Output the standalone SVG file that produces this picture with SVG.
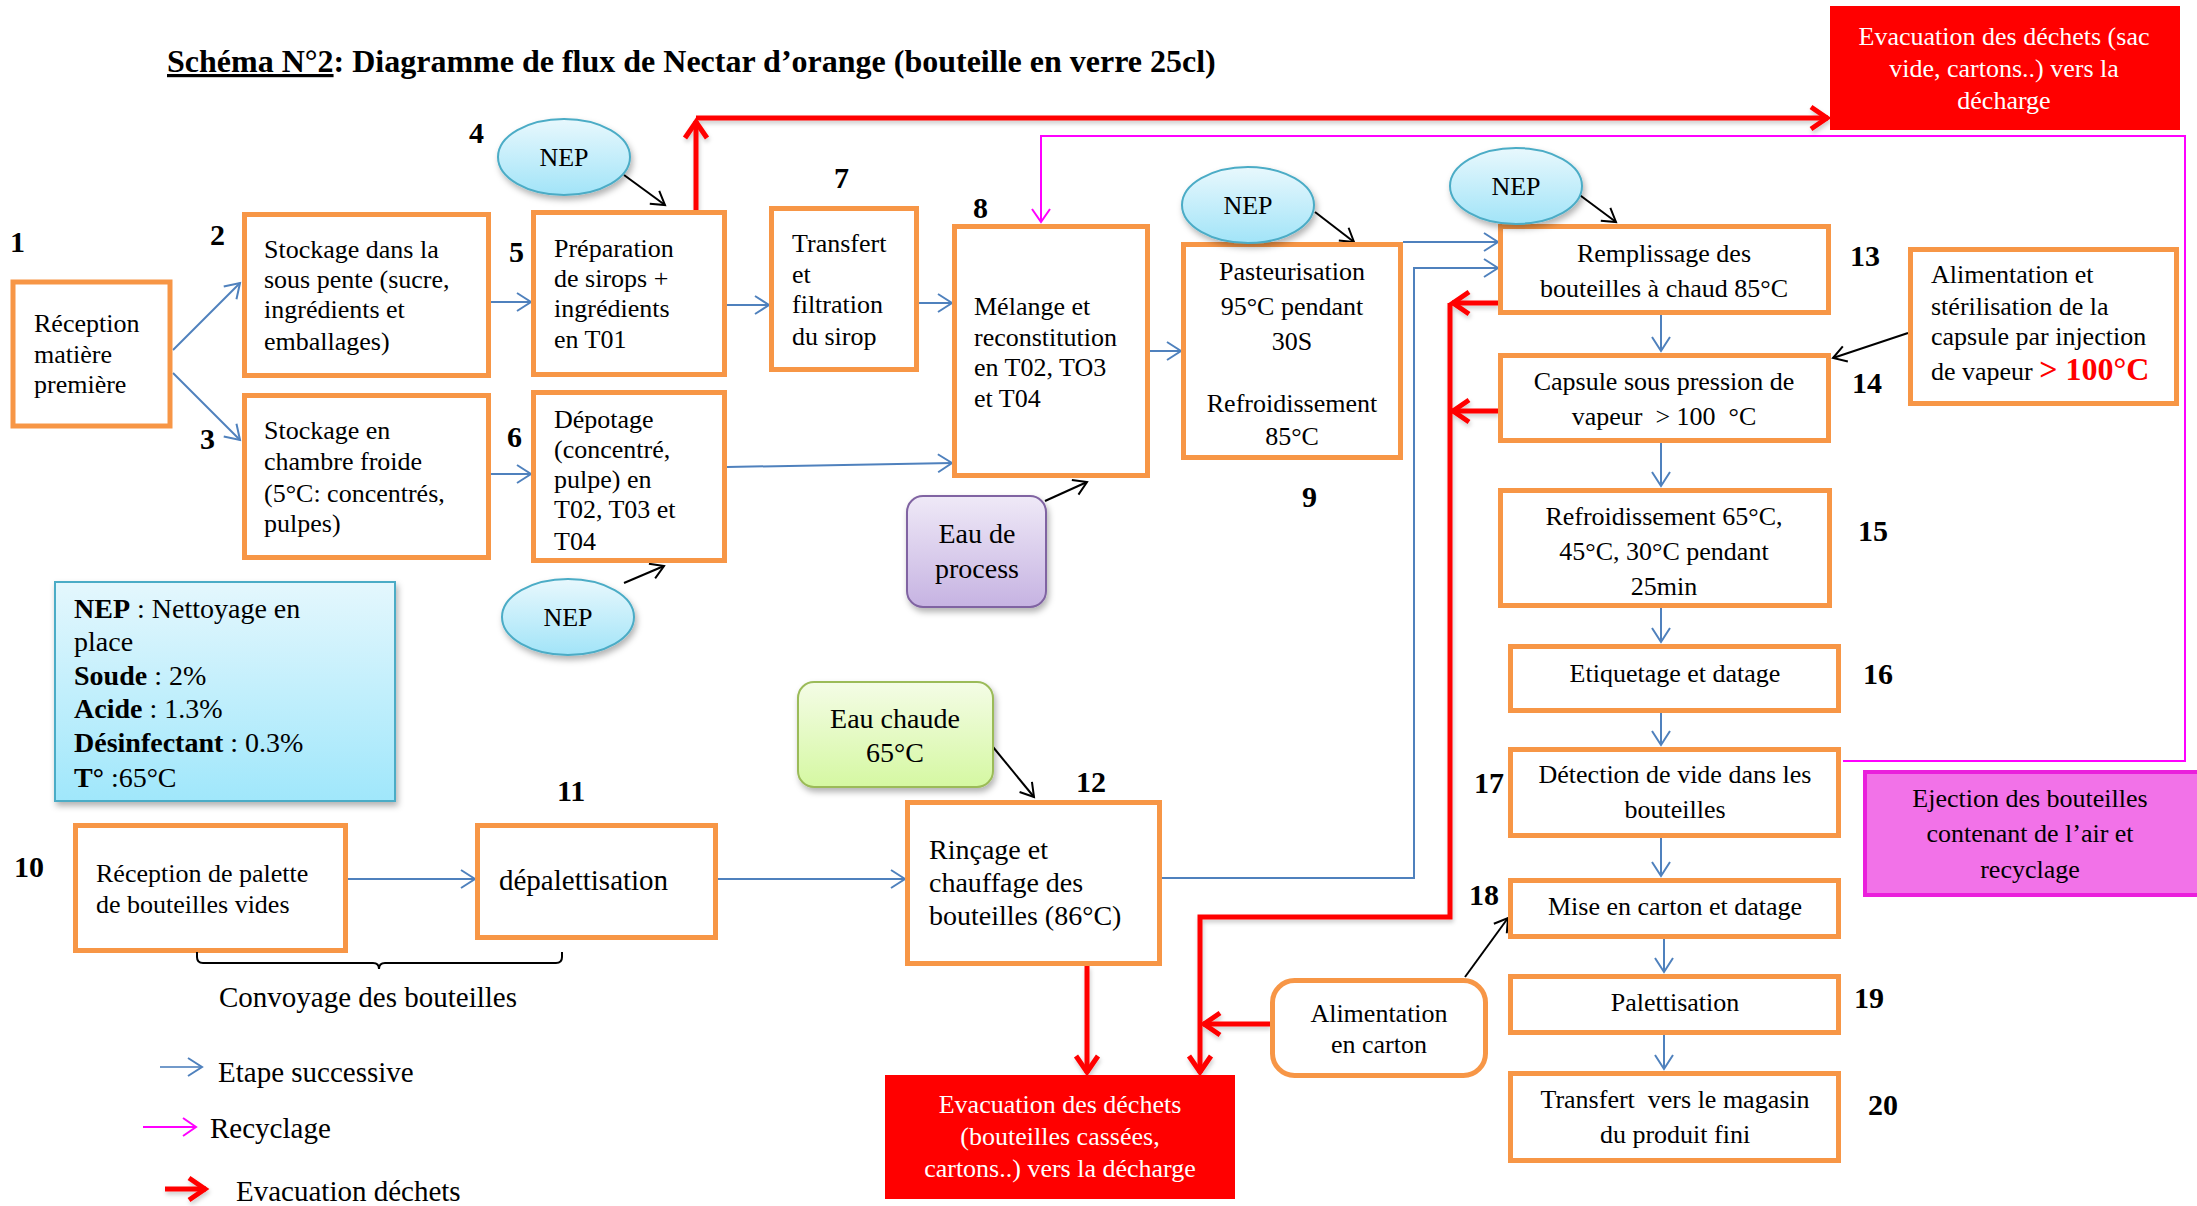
<svg xmlns="http://www.w3.org/2000/svg" width="2197" height="1206" viewBox="0 0 2197 1206">
<defs>
<style>
.box{fill:#fff;stroke:#F79646;stroke-width:5}
.t{font-family:"Liberation Serif","Times New Roman",serif;font-size:26px;fill:#000}
.c{text-anchor:middle}
.w{fill:#fff}
.b{font-weight:bold}
.lbl{font-family:"Liberation Serif","Times New Roman",serif;font-size:30px;font-weight:bold;fill:#000}
.blue{stroke:#4F81BD;stroke-width:2;fill:none;marker-end:url(#mb)}
.blk{stroke:#000;stroke-width:2;fill:none;marker-end:url(#mk)}
.red{stroke:#FF0000;stroke-width:5;fill:none;marker-end:url(#mr)}
.mag{stroke:#FF00FF;stroke-width:2;fill:none;marker-end:url(#mm)}
.nep{fill:url(#gNep);stroke:#4BACC6;stroke-width:2}
</style>
<marker id="mb" markerUnits="userSpaceOnUse" refX="0" refY="0" markerWidth="20" markerHeight="20" orient="auto" overflow="visible"><path d="M-14,-9 L0,0 L-14,9" fill="none" stroke="#4F81BD" stroke-width="2"/></marker>
<marker id="mk" markerUnits="userSpaceOnUse" refX="0" refY="0" markerWidth="20" markerHeight="20" orient="auto" overflow="visible"><path d="M-13,-8 L0,0 L-13,8" fill="none" stroke="#000" stroke-width="2"/></marker>
<marker id="mm" markerUnits="userSpaceOnUse" refX="0" refY="0" markerWidth="20" markerHeight="20" orient="auto" overflow="visible"><path d="M-13,-9 L0,0 L-13,9" fill="none" stroke="#FF00FF" stroke-width="2"/></marker>
<marker id="mr" markerUnits="userSpaceOnUse" refX="0" refY="0" markerWidth="30" markerHeight="30" orient="auto" overflow="visible"><path d="M-17,-11 L-1,0 L-17,11" fill="none" stroke="#FF0000" stroke-width="5"/></marker>
<linearGradient id="gNep" x1="0" y1="0" x2="0" y2="1"><stop offset="0" stop-color="#E8F8FD"/><stop offset="1" stop-color="#A2E4F8"/></linearGradient>
<linearGradient id="gLeg" x1="0" y1="0" x2="0" y2="1"><stop offset="0" stop-color="#E4F7FD"/><stop offset="1" stop-color="#A0E7FB"/></linearGradient>
<linearGradient id="gPur" x1="0" y1="0" x2="0" y2="1"><stop offset="0" stop-color="#EFE9F7"/><stop offset="1" stop-color="#C6B3E2"/></linearGradient>
<linearGradient id="gGrn" x1="0" y1="0" x2="0" y2="1"><stop offset="0" stop-color="#F4FCE6"/><stop offset="1" stop-color="#D5F8A2"/></linearGradient>
<filter id="sh" x="-20%" y="-20%" width="150%" height="150%"><feDropShadow dx="2" dy="4" stdDeviation="3" flood-color="#000" flood-opacity="0.3"/></filter>
<filter id="shs" filterUnits="userSpaceOnUse" x="0" y="0" width="2197" height="1206"><feDropShadow dx="1" dy="3" stdDeviation="2" flood-color="#000" flood-opacity="0.2"/></filter>
</defs>
<rect width="2197" height="1206" fill="#fff"/>

<text class="t b" x="167" y="72" style="font-size:32px"><tspan text-decoration="underline">Schéma N°2</tspan>: Diagramme de flux de Nectar d’orange (bouteille en verre 25cl)</text>

<g id="connectors">
  <g id="blue-flow">
    <path class="blue" d="M173,350 L240,283"/>
    <path class="blue" d="M173,373 L240,440"/>
    <path class="blue" d="M491,302 H531"/>
    <path class="blue" d="M491,474 H531"/>
    <path class="blue" d="M727,305 H769"/>
    <path class="blue" d="M727,467 L952,463"/>
    <path class="blue" d="M919,303 H952"/>
    <path class="blue" d="M1150,351 H1181"/>
    <path class="blue" d="M1403,242 H1498"/>
    <path class="blue" d="M1162,878 H1414 V268 H1498"/>
    <path class="blue" d="M348,879 H475"/>
    <path class="blue" d="M718,879 H905"/>
    <path class="blue" d="M1661,315 V351"/>
    <path class="blue" d="M1661,443 V486"/>
    <path class="blue" d="M1661,608 V642"/>
    <path class="blue" d="M1661,713 V745"/>
    <path class="blue" d="M1661,838 V876"/>
    <path class="blue" d="M1664,939 V972"/>
    <path class="blue" d="M1664,1035 V1069"/>
  </g>
  <g id="black-inputs">
    <path class="blk" d="M624,175 L665,205"/>
    <path class="blk" d="M624,583 L664,566"/>
    <path class="blk" d="M1315,212 L1354,242"/>
    <path class="blk" d="M1577,193 L1616,222"/>
    <path class="blk" d="M1045,501 L1087,482"/>
    <path class="blk" d="M993,747 L1034,797"/>
    <path class="blk" d="M1908,333 L1833,358"/>
    <path class="blk" d="M1465,977 L1508,918"/>
  </g>
  <g id="recycling">
    <path class="mag" d="M1843,761 H2185 V136 H1041 V222"/>
  </g>
  <g id="waste" filter="url(#shs)">
    <path class="red" d="M696,210 V121"/>
    <path class="red" d="M696,118 H1828"/>
    <path class="red" d="M1498,303 H1452"/>
    <path class="red" d="M1498,411 H1452"/>
    <path class="red" d="M1450,303 V917 H1200 V1073"/>
    <path class="red" d="M1270,1024 H1203"/>
    <path class="red" d="M1087,966 V1073"/>
  </g>
</g>

<g id="n1"><rect class="box" x="13" y="282" width="157" height="144"/>
<text class="t" x="34" y="332">Réception</text><text class="t" x="34" y="363">matière</text><text class="t" x="34" y="393">première</text></g>
<g id="n2"><rect class="box" x="244.5" y="214.5" width="244" height="161"/>
<text class="t" x="264" y="258">Stockage dans la</text><text class="t" x="264" y="288">sous pente (sucre,</text><text class="t" x="264" y="318">ingrédients et</text><text class="t" x="264" y="350">emballages)</text></g>
<g id="n3"><rect class="box" x="244.5" y="395.5" width="244" height="162"/>
<text class="t" x="264" y="439">Stockage en</text><text class="t" x="264" y="470">chambre froide</text><text class="t" x="264" y="502">(5°C: concentrés,</text><text class="t" x="264" y="532">pulpes)</text></g>
<g id="n5"><rect class="box" x="533.5" y="212.5" width="191" height="162"/>
<text class="t" x="554" y="257">Préparation</text><text class="t" x="554" y="287">de sirops +</text><text class="t" x="554" y="317">ingrédients</text><text class="t" x="554" y="348">en T01</text></g>
<g id="n6"><rect class="box" x="533.5" y="392.5" width="191" height="168"/>
<text class="t" x="554" y="428">Dépotage</text><text class="t" x="554" y="458">(concentré,</text><text class="t" x="554" y="488">pulpe) en</text><text class="t" x="554" y="518">T02, T03 et</text><text class="t" x="554" y="550">T04</text></g>
<g id="n7"><rect class="box" x="771.5" y="208.5" width="145" height="161"/>
<text class="t" x="792" y="252">Transfert</text><text class="t" x="792" y="283">et</text><text class="t" x="792" y="313">filtration</text><text class="t" x="792" y="345">du sirop</text></g>
<g id="n8"><rect class="box" x="954.5" y="226.5" width="193" height="249"/>
<text class="t" x="974" y="315">Mélange et</text><text class="t" x="974" y="346">reconstitution</text><text class="t" x="974" y="376">en T02, TO3</text><text class="t" x="974" y="407">et T04</text></g>
<g id="n9"><rect class="box" x="1183.5" y="244.5" width="217" height="213"/>
<text class="t c" x="1292" y="280">Pasteurisation</text><text class="t c" x="1292" y="315">95°C pendant</text><text class="t c" x="1292" y="350">30S</text><text class="t c" x="1292" y="412">Refroidissement</text><text class="t c" x="1292" y="445">85°C</text></g>
<g id="n10"><rect class="box" x="75.5" y="825.5" width="270" height="125"/>
<text class="t" x="96" y="882">Réception de palette</text><text class="t" x="96" y="913">de bouteilles vides</text></g>
<g id="n11"><rect class="box" x="477.5" y="825.5" width="238" height="112"/>
<text class="t" x="499" y="890" style="font-size:29px">dépalettisation</text></g>
<g id="n12"><rect class="box" x="907.5" y="802.5" width="252" height="161"/>
<text class="t" x="929" y="859" style="font-size:28px">Rinçage et</text><text class="t" x="929" y="892" style="font-size:28px">chauffage des</text><text class="t" x="929" y="925" style="font-size:28px">bouteilles (86°C)</text></g>
<g id="n13"><rect class="box" x="1500.5" y="226.5" width="328" height="86"/>
<text class="t c" x="1664" y="262">Remplissage des</text><text class="t c" x="1664" y="297">bouteilles à chaud 85°C</text></g>
<g id="n14"><rect class="box" x="1500.5" y="355.5" width="328" height="85"/>
<text class="t c" x="1664" y="390">Capsule sous pression de</text><text class="t c" x="1664" y="425" xml:space="preserve">vapeur  &gt; 100  °C</text></g>
<g id="n-capsule"><rect class="box" x="1910.5" y="249.5" width="266" height="154"/>
<text class="t" x="1931" y="283">Alimentation et</text><text class="t" x="1931" y="315">stérilisation de la</text><text class="t" x="1931" y="345">capsule par injection</text><text class="t" x="1931" y="380" xml:space="preserve">de vapeur <tspan style="font-size:32px;font-weight:bold;fill:#FF0000">&gt; 100°C</tspan></text></g>
<g id="n15"><rect class="box" x="1500.5" y="490.5" width="329" height="115"/>
<text class="t c" x="1664" y="525">Refroidissement 65°C,</text><text class="t c" x="1664" y="560">45°C, 30°C pendant</text><text class="t c" x="1664" y="595">25min</text></g>
<g id="n16"><rect class="box" x="1510.5" y="646.5" width="328" height="64"/>
<text class="t c" x="1675" y="682">Etiquetage et datage</text></g>
<g id="n17"><rect class="box" x="1510.5" y="749.5" width="328" height="86"/>
<text class="t c" x="1675" y="783">Détection de vide dans les</text><text class="t c" x="1675" y="818">bouteilles</text></g>
<g id="n18"><rect class="box" x="1510.5" y="880.5" width="328" height="56"/>
<text class="t c" x="1675" y="915">Mise en carton et datage</text></g>
<g id="n19"><rect class="box" x="1510.5" y="976.5" width="328" height="56"/>
<text class="t c" x="1675" y="1011">Palettisation</text></g>
<g id="n20"><rect class="box" x="1510.5" y="1073.5" width="328" height="87"/>
<text class="t c" x="1675" y="1108" xml:space="preserve">Transfert  vers le magasin</text><text class="t c" x="1675" y="1143">du produit fini</text></g>
<g id="n-carton"><rect class="box" x="1272.5" y="980.5" width="213" height="95" rx="22"/>
<text class="t c" x="1379" y="1022">Alimentation</text><text class="t c" x="1379" y="1053">en carton</text></g>

<g id="n-waste-top"><rect x="1830" y="6" width="350" height="124" fill="#FF0000"/>
<text class="t c w" x="2004" y="45">Evacuation des déchets (sac</text><text class="t c w" x="2004" y="77">vide, cartons..) vers la</text><text class="t c w" x="2004" y="109">décharge</text></g>
<g id="n-waste-bottom"><rect x="885" y="1075" width="350" height="124" fill="#FF0000"/>
<text class="t c w" x="1060" y="1113">Evacuation des déchets</text><text class="t c w" x="1060" y="1145">(bouteilles cassées,</text><text class="t c w" x="1060" y="1177">cartons..) vers la décharge</text></g>
<g id="n-ejection"><rect x="1865" y="772" width="334" height="123" fill="#F272E8" stroke="#EA1FDC" stroke-width="4"/>
<text class="t c" x="2030" y="807">Ejection des bouteilles</text><text class="t c" x="2030" y="842">contenant de l’air et</text><text class="t c" x="2030" y="878">recyclage</text></g>

<g id="n-eau-process"><rect x="907" y="496" width="139" height="111" rx="16" fill="url(#gPur)" stroke="#8064A2" stroke-width="2" filter="url(#sh)"/>
<text class="t c" x="977" y="543" style="font-size:28px">Eau de</text><text class="t c" x="977" y="578" style="font-size:28px">process</text></g>
<g id="n-eau-chaude"><rect x="798" y="682" width="195" height="105" rx="16" fill="url(#gGrn)" stroke="#9BBB59" stroke-width="2" filter="url(#sh)"/>
<text class="t c" x="895" y="728" style="font-size:28px">Eau chaude</text><text class="t c" x="895" y="762" style="font-size:28px">65°C</text></g>

<g id="nep1"><ellipse class="nep" cx="564" cy="157" rx="66" ry="38" filter="url(#sh)"/><text class="t c" x="564" y="166">NEP</text></g>
<g id="nep2"><ellipse class="nep" cx="1248" cy="205" rx="66" ry="38" filter="url(#sh)"/><text class="t c" x="1248" y="214">NEP</text></g>
<g id="nep3"><ellipse class="nep" cx="1516" cy="186" rx="66" ry="38" filter="url(#sh)"/><text class="t c" x="1516" y="195">NEP</text></g>
<g id="nep4"><ellipse class="nep" cx="568" cy="617" rx="66" ry="38" filter="url(#sh)"/><text class="t c" x="568" y="626">NEP</text></g>

<g id="legend-nep"><rect x="55" y="582" width="340" height="219" fill="url(#gLeg)" stroke="#4BACC6" stroke-width="2" filter="url(#sh)"/>
<text class="t" x="74" y="618" style="font-size:28px"><tspan class="b">NEP</tspan> : Nettoyage en</text>
<text class="t" x="74" y="651" style="font-size:28px">place</text>
<text class="t" x="74" y="685" style="font-size:28px"><tspan class="b">Soude</tspan> : 2%</text>
<text class="t" x="74" y="718" style="font-size:28px"><tspan class="b">Acide</tspan> : 1.3%</text>
<text class="t" x="74" y="752" style="font-size:28px"><tspan class="b">Désinfectant</tspan> : 0.3%</text>
<text class="t" x="74" y="787" style="font-size:28px"><tspan class="b">T°</tspan> :65°C</text></g>

<g id="convoyage"><path d="M197,952 V957 Q197,963 203,963 H373 Q379,963 379,969 Q379,963 385,963 H556 Q562,963 562,957 V952" fill="none" stroke="#000" stroke-width="2"/>
<text class="t" x="219" y="1007" style="font-size:29px">Convoyage des bouteilles</text></g>

<g id="legend">
<path class="blue" d="M160,1067 H202" stroke-opacity="0.8"/>
<text class="t" x="218" y="1082" style="font-size:29px">Etape successive</text>
<path class="mag" d="M143,1127 H196"/>
<text class="t" x="210" y="1138" style="font-size:29px">Recyclage</text>
<path class="red" d="M165,1189 H206" filter="url(#shs)"/>
<text class="t" x="236" y="1201" style="font-size:29px">Evacuation déchets</text>
</g>

<g id="step-numbers">
<text class="lbl" x="10" y="252">1</text>
<text class="lbl" x="210" y="245">2</text>
<text class="lbl" x="200" y="449">3</text>
<text class="lbl" x="469" y="143">4</text>
<text class="lbl" x="509" y="262">5</text>
<text class="lbl" x="507" y="447">6</text>
<text class="lbl" x="834" y="188">7</text>
<text class="lbl" x="973" y="218">8</text>
<text class="lbl" x="1302" y="507">9</text>
<text class="lbl" x="14" y="877">10</text>
<text class="lbl" x="557" y="801">11</text>
<text class="lbl" x="1076" y="792">12</text>
<text class="lbl" x="1850" y="266">13</text>
<text class="lbl" x="1852" y="393">14</text>
<text class="lbl" x="1858" y="541">15</text>
<text class="lbl" x="1863" y="684">16</text>
<text class="lbl" x="1474" y="793">17</text>
<text class="lbl" x="1469" y="905">18</text>
<text class="lbl" x="1854" y="1008">19</text>
<text class="lbl" x="1868" y="1115">20</text>
</g>
</svg>
